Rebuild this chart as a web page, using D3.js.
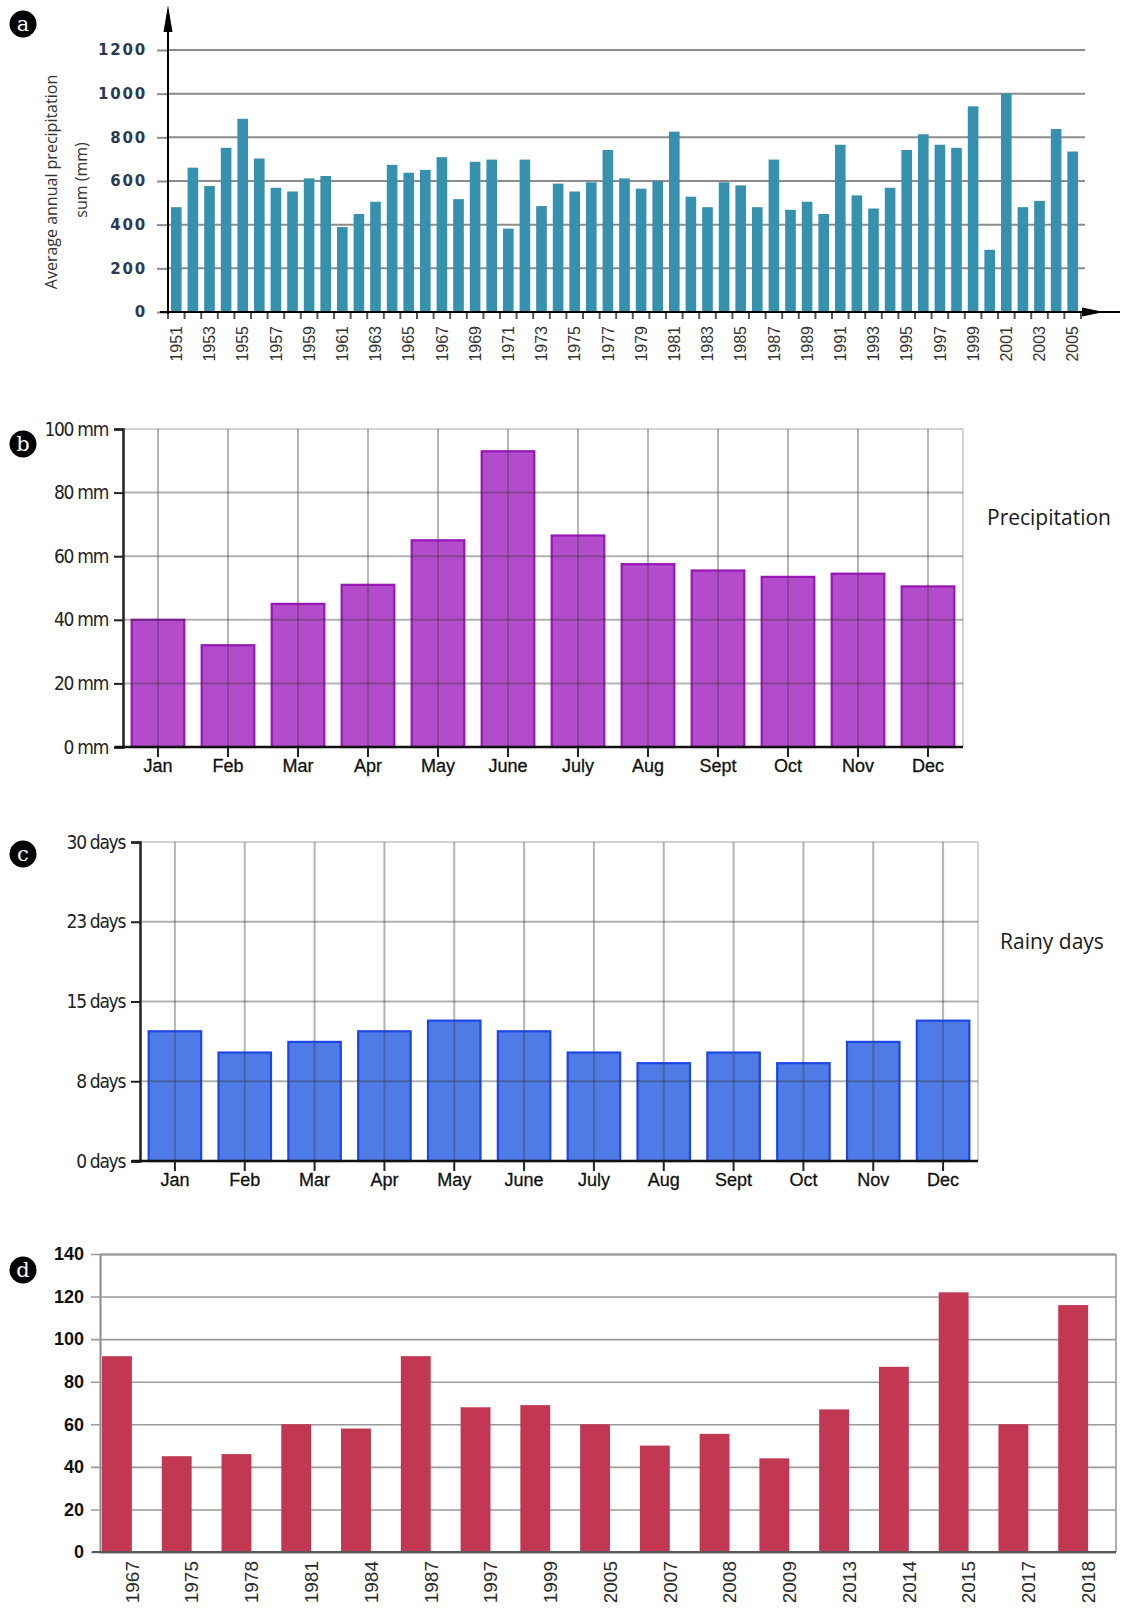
<!DOCTYPE html>
<html>
<head>
<meta charset="utf-8">
<script src="https://cdn.jsdelivr.net/npm/d3@7"></script>
<style>
  html, body { margin: 0; padding: 0; background: #fff; }
  svg { display: block; }
</style>
</head>
<body>
<svg id="chart" width="1125" height="1609"></svg>
<script>
// Four stacked precipitation panels (a-d)

// a: annual precipitation sum, 1951-2005
const annualYears = d3.range(1951, 2006).map(String);
const annualPrecip = [
  480, 661, 577, 752, 885, 703, 569, 552, 612, 623,
  389, 449, 505, 674, 638, 651, 709, 517, 688, 698,
  382, 698, 485, 588, 552, 594, 742, 612, 565, 600,
  826, 528, 480, 594, 580, 480, 698, 468, 505, 449,
  766, 534, 474, 569, 742, 814, 766, 752, 942, 285,
  1000, 480, 509, 838, 735
];
const annualTicks = [0, 200, 400, 600, 800, 1000, 1200];

// b, c: monthly values
const months = ['Jan', 'Feb', 'Mar', 'Apr', 'May', 'June', 'July', 'Aug', 'Sept', 'Oct', 'Nov', 'Dec'];
const monthlyPrecip = [40, 32, 45, 51, 65, 93, 66.5, 57.5, 55.5, 53.5, 54.5, 50.5];
const precipTicks = [0, 20, 40, 60, 80, 100];
const rainyDays = [12.2, 10.2, 11.2, 12.2, 13.2, 12.2, 10.2, 9.2, 10.2, 9.2, 11.2, 13.2];
const rainyTicks = [0, 7.5, 15, 22.5, 30];
const rainyTickLabels = ['0 days', '8 days', '15 days', '23 days', '30 days'];

// d: selected years
const eventYears = ['1967', '1975', '1978', '1981', '1984', '1987', '1997', '1999', '2005',
  '2007', '2008', '2009', '2013', '2014', '2015', '2017', '2018'];
const eventValues = [92, 45, 46, 60, 58, 92, 68, 69, 60, 50, 55.5, 44, 67, 87, 122, 60, 116];
const eventTicks = [0, 20, 40, 60, 80, 100, 120, 140];

const svg = d3.select('#chart');

function badge(cy, letter) {
  svg.append('circle').attr('cx', 23).attr('cy', cy).attr('r', 13.5).attr('fill', '#000');
  svg.append('text')
    .attr('x', 23).attr('y', cy).attr('dy', '0.34em')
    .attr('text-anchor', 'middle')
    .attr('fill', '#fff')
    .style('font', '21px "DejaVu Serif", "Liberation Serif", serif')
    .text(letter);
}

// ---------- panel a ----------
(function panelA() {
  const g = svg.append('g');
  const x0 = 168, x1 = 1081, gridEnd = 1085;
  const x = d3.scaleBand().domain(annualYears).range([x0, x1]).paddingInner(0.36).paddingOuter(0.18);
  const y = d3.scaleLinear().domain([0, 1200]).range([312, 50]);

  // horizontal grid
  g.selectAll('.grid').data(annualTicks.slice(1)).join('line')
    .attr('x1', x0).attr('x2', gridEnd)
    .attr('y1', d => y(d)).attr('y2', d => y(d))
    .attr('stroke', '#8c8c8c').attr('stroke-width', 2);

  g.selectAll('.bar').data(annualPrecip).join('rect')
    .attr('x', (d, i) => x(annualYears[i]))
    .attr('width', x.bandwidth())
    .attr('y', d => y(d))
    .attr('height', d => y(0) - y(d))
    .attr('fill', '#3591ad');

  // y axis labels
  const yAxis = g.append('g').attr('transform', `translate(${x0},0)`)
    .call(d3.axisLeft(y).tickValues(annualTicks).tickFormat(d3.format('d')).tickSize(11).tickPadding(10));
  yAxis.select('.domain').remove();
  yAxis.selectAll('.tick line').attr('stroke', '#8c8c8c').attr('stroke-width', 2);
  yAxis.selectAll('.tick text')
    .attr('fill', '#2b3a55')
    .style('font', 'bold 15px "DejaVu Sans", sans-serif')
    .style('letter-spacing', '1.8px');

  // x ticks at band boundaries
  const step = x.step();
  g.selectAll('.xt').data(d3.range(annualYears.length + 1)).join('line')
    .attr('x1', i => x0 + i * step).attr('x2', i => x0 + i * step)
    .attr('y1', 313).attr('y2', 319)
    .attr('stroke', '#555').attr('stroke-width', 2);

  g.selectAll('.xl').data(annualYears.filter((d, i) => i % 2 === 0)).join('text')
    .attr('transform', d => `translate(${x(d) + x.bandwidth() / 2},326) rotate(-90)`)
    .attr('dy', '0.35em')
    .attr('text-anchor', 'end')
    .attr('fill', '#333')
    .style('font', '16px "Liberation Sans", Arial, sans-serif')
    .text(d => d);

  // axes with arrows
  g.append('line').attr('x1', x0).attr('x2', x0).attr('y1', 314).attr('y2', 10)
    .attr('stroke', '#000').attr('stroke-width', 2);
  g.append('path').attr('d', `M${x0},5 L${x0 - 4.5},32 L${x0 + 4.5},32 Z`).attr('fill', '#000');
  g.append('line').attr('x1', 160).attr('x2', 1120).attr('y1', 312).attr('y2', 312)
    .attr('stroke', '#000').attr('stroke-width', 2.2);
  g.append('path').attr('d', 'M1104,312 L1082,307.5 L1082,316.5 Z').attr('fill', '#000');

  g.append('text')
    .attr('transform', 'translate(51,182) rotate(-90)')
    .attr('text-anchor', 'middle')
    .attr('dy', '0.35em')
    .attr('fill', '#333')
    .style('font', '16px "Open Sans", sans-serif')
    .text('Average annual precipitation');
  g.append('text')
    .attr('transform', 'translate(81,180) rotate(-90)')
    .attr('text-anchor', 'middle')
    .attr('dy', '0.35em')
    .attr('fill', '#333')
    .style('font', '16px "Open Sans", sans-serif')
    .text('sum (mm)');

  badge(24, 'a');
})();

// ---------- panels b, c (monthly, gridded) ----------
function monthlyPanel(opts) {
  const g = svg.append('g');
  const x = d3.scaleBand().domain(months).range([opts.left, opts.right]).paddingInner(0.22).paddingOuter(0.11);
  const y = d3.scaleLinear().domain([0, opts.max]).range([opts.bottom, opts.top]);
  const cx = d => x(d) + x.bandwidth() / 2;

  // frame
  g.append('line').attr('x1', opts.left).attr('x2', opts.right).attr('y1', opts.top).attr('y2', opts.top)
    .attr('stroke', '#d2d2d2').attr('stroke-width', 2);
  g.append('line').attr('x1', opts.right).attr('x2', opts.right).attr('y1', opts.top).attr('y2', opts.bottom)
    .attr('stroke', '#d2d2d2').attr('stroke-width', 2);

  g.selectAll('.bar').data(opts.values).join('rect')
    .attr('x', (d, i) => x(months[i]) + 1)
    .attr('width', x.bandwidth() - 2)
    .attr('y', d => y(d))
    .attr('height', d => y(0) - y(d))
    .attr('fill', opts.fill)
    .attr('stroke', opts.stroke)
    .attr('stroke-width', 2.2);

  // grid on top, half transparent
  g.selectAll('.hg').data(opts.ticks.slice(1, -1)).join('line')
    .attr('x1', opts.left).attr('x2', opts.right)
    .attr('y1', d => y(d)).attr('y2', d => y(d))
    .attr('stroke', 'rgba(60,60,60,0.4)').attr('stroke-width', 2);
  g.selectAll('.vg').data(months).join('line')
    .attr('x1', cx).attr('x2', cx)
    .attr('y1', opts.top).attr('y2', opts.bottom)
    .attr('stroke', 'rgba(60,60,60,0.38)').attr('stroke-width', 2);

  const yAxis = g.append('g').attr('transform', `translate(${opts.left},0)`)
    .call(d3.axisLeft(y).tickValues(opts.ticks).tickSize(9).tickPadding(6)
      .tickFormat((d, i) => opts.tickLabels[i]));
  yAxis.select('.domain').attr('stroke', '#222').attr('stroke-width', 2.5);
  yAxis.selectAll('.tick line').attr('stroke', '#222').attr('stroke-width', 2);
  yAxis.selectAll('.tick text')
    .attr('fill', '#222')
    .style('font', '19px "DejaVu Sans Condensed", "DejaVu Sans", sans-serif')
    .style('letter-spacing', '-1.3px');

  const xAxis = g.append('g').attr('transform', `translate(0,${opts.bottom})`)
    .call(d3.axisBottom(x).tickSize(10).tickPadding(6).tickSizeOuter(0));
  xAxis.select('.domain').attr('stroke', '#111').attr('stroke-width', 2.5)
    .attr('d', `M${opts.left - 8},0H${opts.right}`);
  xAxis.selectAll('.tick line').attr('stroke', '#222').attr('stroke-width', 2);
  xAxis.selectAll('.tick text')
    .attr('y', 25).attr('dy', 0)
    .attr('fill', '#111')
    .style('font', '18px "Liberation Sans", Arial, sans-serif')
    .style('stroke', '#111').style('stroke-width', '0.3px');

  g.append('text')
    .attr('x', opts.labelX).attr('y', opts.labelY)
    .attr('fill', '#1a1a1a')
    .style('font', '21px "Open Sans", sans-serif')
    .text(opts.label);

  badge(opts.badgeY, opts.letter);
}

monthlyPanel({
  left: 123, right: 963, top: 429, bottom: 747, max: 100,
  values: monthlyPrecip, ticks: precipTicks,
  tickLabels: precipTicks.map(d => d + ' mm'),
  fill: '#b34ccb', stroke: '#9716b6',
  label: 'Precipitation', labelX: 987, labelY: 525,
  letter: 'b', badgeY: 444
});

monthlyPanel({
  left: 140, right: 978, top: 842, bottom: 1161, max: 30,
  values: rainyDays, ticks: rainyTicks, tickLabels: rainyTickLabels,
  fill: '#4f7be6', stroke: '#1e46e6',
  label: 'Rainy days', labelX: 1000, labelY: 949,
  letter: 'c', badgeY: 854
});

// ---------- panel d ----------
(function panelD() {
  const g = svg.append('g');
  const left = 100, right = 1116, top = 1254, bottom = 1552;
  const x = d3.scaleBand().domain(eventYears).range([left, right]);
  const y = d3.scaleLinear().domain([0, 140]).range([bottom, top]);
  const bw = x.bandwidth() * 0.5;

  const yAxis = g.append('g').attr('transform', `translate(${left},0)`)
    .call(d3.axisLeft(y).tickValues(eventTicks).tickSize(-(right - left)).tickPadding(16));
  yAxis.select('.domain').attr('stroke', '#8a8a8a').attr('stroke-width', 2);
  yAxis.selectAll('.tick line').attr('stroke', '#9a9a9a').attr('stroke-width', 1.6)
    .attr('x1', -9);
  yAxis.selectAll('.tick text')
    .attr('fill', '#111')
    .style('font', 'bold 18px "Liberation Sans", Arial, sans-serif');

  g.append('line').attr('x1', right).attr('x2', right).attr('y1', top).attr('y2', bottom)
    .attr('stroke', '#9a9a9a').attr('stroke-width', 1.6);

  g.selectAll('.bar').data(eventValues).join('rect')
    .attr('x', (d, i) => x(eventYears[i]) + 2)
    .attr('width', bw)
    .attr('y', d => y(d))
    .attr('height', d => y(0) - y(d))
    .attr('fill', '#c23751');

  g.append('line').attr('x1', left - 8).attr('x2', right).attr('y1', bottom).attr('y2', bottom)
    .attr('stroke', '#5a5a5a').attr('stroke-width', 2);

  g.selectAll('.xl').data(eventYears).join('text')
    .attr('transform', d => `translate(${x(d) + bw + 2},1561) rotate(-90)`)
    .attr('dy', '0.36em')
    .attr('text-anchor', 'end')
    .attr('fill', '#2a2a2a')
    .style('font', '19px "Liberation Sans", Arial, sans-serif')
    .text(d => d);

  badge(1270, 'd');
})();
</script>
</body>
</html>
